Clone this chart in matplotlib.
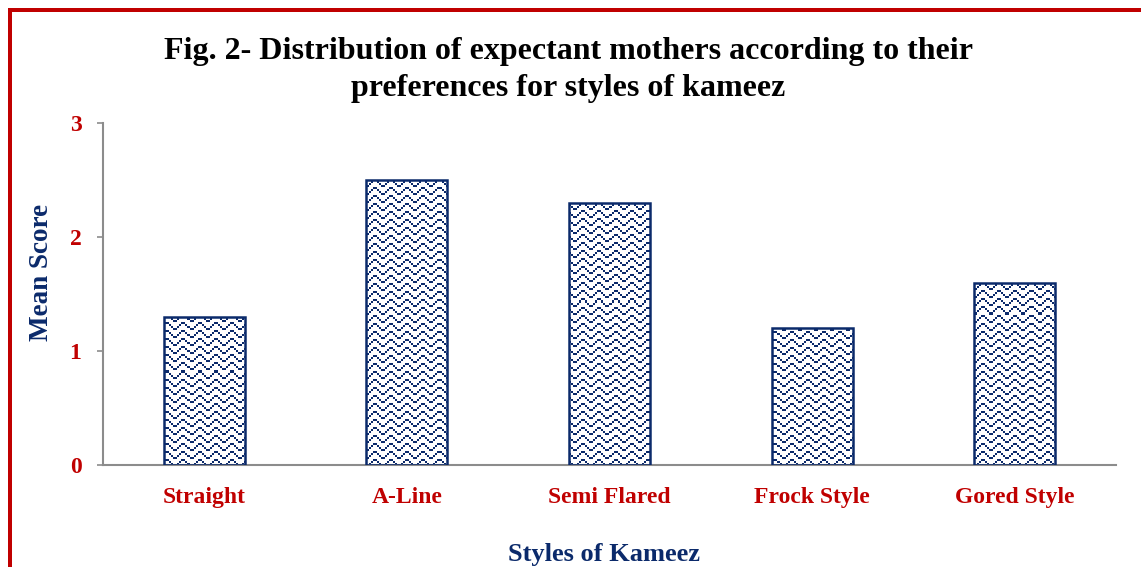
import numpy as np
import matplotlib
matplotlib.use("Agg")
import matplotlib.pyplot as plt
from matplotlib.patches import Rectangle

categories = ["Straight", "A-Line", "Semi Flared", "Frock Style", "Gored Style"]
mean_scores = [1.3, 2.5, 2.3, 1.2, 1.6]
y_ticks = [0, 1, 2, 3]

title = "Fig. 2- Distribution of expectant mothers according to their\npreferences for styles of kameez"
x_label = "Styles of Kameez"
y_label = "Mean Score"

RED = "#C00000"
NAVY = "#0B2A6B"
FONT = "Liberation Serif"

W, H, DPI = 1141, 567, 100
fig = plt.figure(figsize=(W / DPI, H / DPI), dpi=DPI)
ax_l, ax_r, ax_b, ax_t = 103 / W, 1116 / W, 1 - 465 / H, 1 - 123 / H
ax = fig.add_axes([ax_l, ax_b, ax_r - ax_l, ax_t - ax_b])

x = np.arange(len(categories))
bars = ax.bar(x, mean_scores, width=0.4, facecolor="none", edgecolor=NAVY,
              linewidth=1.8, zorder=3)

# zigzag pattern fill (8x8 tile, each cell 2x2 pixels)
tile_rows = [0x81, 0x42, 0x24, 0x18, 0x81, 0x42, 0x24, 0x18]
tile = np.array([[(r >> (7 - c)) & 1 for c in range(8)] for r in tile_rows], dtype=float)
tile = np.kron(tile, np.ones((2, 2)))
pw = int(round((ax_r - ax_l) * W))
ph = int(round((ax_t - ax_b) * H))
pattern = np.tile(tile, (ph // 16 + 1, pw // 16 + 1))[:ph, :pw]
rgba = np.ones((ph, pw, 4))
navy_rgb = matplotlib.colors.to_rgb(NAVY)
for i in range(3):
    rgba[..., i] = np.where(pattern > 0, navy_rgb[i], 1.0)
for b in bars:
    im = ax.imshow(rgba, extent=[0, 1, 0, 1], transform=ax.transAxes,
                   interpolation="nearest", aspect="auto", zorder=2.5)
    im.set_clip_path(b)

ax.set_xlim(-0.5, len(categories) - 0.5)
ax.set_ylim(0, 3)
ax.set_yticks(y_ticks)
ax.set_xticks(x)
ax.set_xticklabels(categories)

for s in ["top", "right"]:
    ax.spines[s].set_visible(False)
for s in ["left", "bottom"]:
    ax.spines[s].set_color("#8C8C8C")
    ax.spines[s].set_linewidth(1.5)
ax.tick_params(axis="y", direction="out", length=4.5, width=1.2, color="#8C8C8C", pad=11)
ax.tick_params(axis="x", length=0, pad=16)
for lab in ax.get_xticklabels() + ax.get_yticklabels():
    lab.set_fontfamily(FONT)
    lab.set_fontweight("bold")
    lab.set_fontsize(17)
    lab.set_color(RED)

fig.text(568 / W, 1 - 70 / H, title, ha="center", va="center", fontfamily=FONT,
         fontweight="bold", fontsize=23, color="black", linespacing=1.39)
fig.text(42 / W, 1 - 272 / H, y_label, ha="center", va="center", rotation=90,
         fontfamily=FONT, fontweight="bold", fontsize=19.5, color=NAVY)
fig.text(604 / W, 1 - 554 / H, x_label, ha="center", va="center",
         fontfamily=FONT, fontweight="bold", fontsize=19, color=NAVY)

# red frame (left and top edges visible)
fig.add_artist(Rectangle((10 / W, -0.2), 1.5, 1.2 - 10 / H, transform=fig.transFigure,
                         fill=False, edgecolor=RED, linewidth=4 * 72 / DPI, clip_on=False))

fig.savefig("out.png", dpi=DPI)
